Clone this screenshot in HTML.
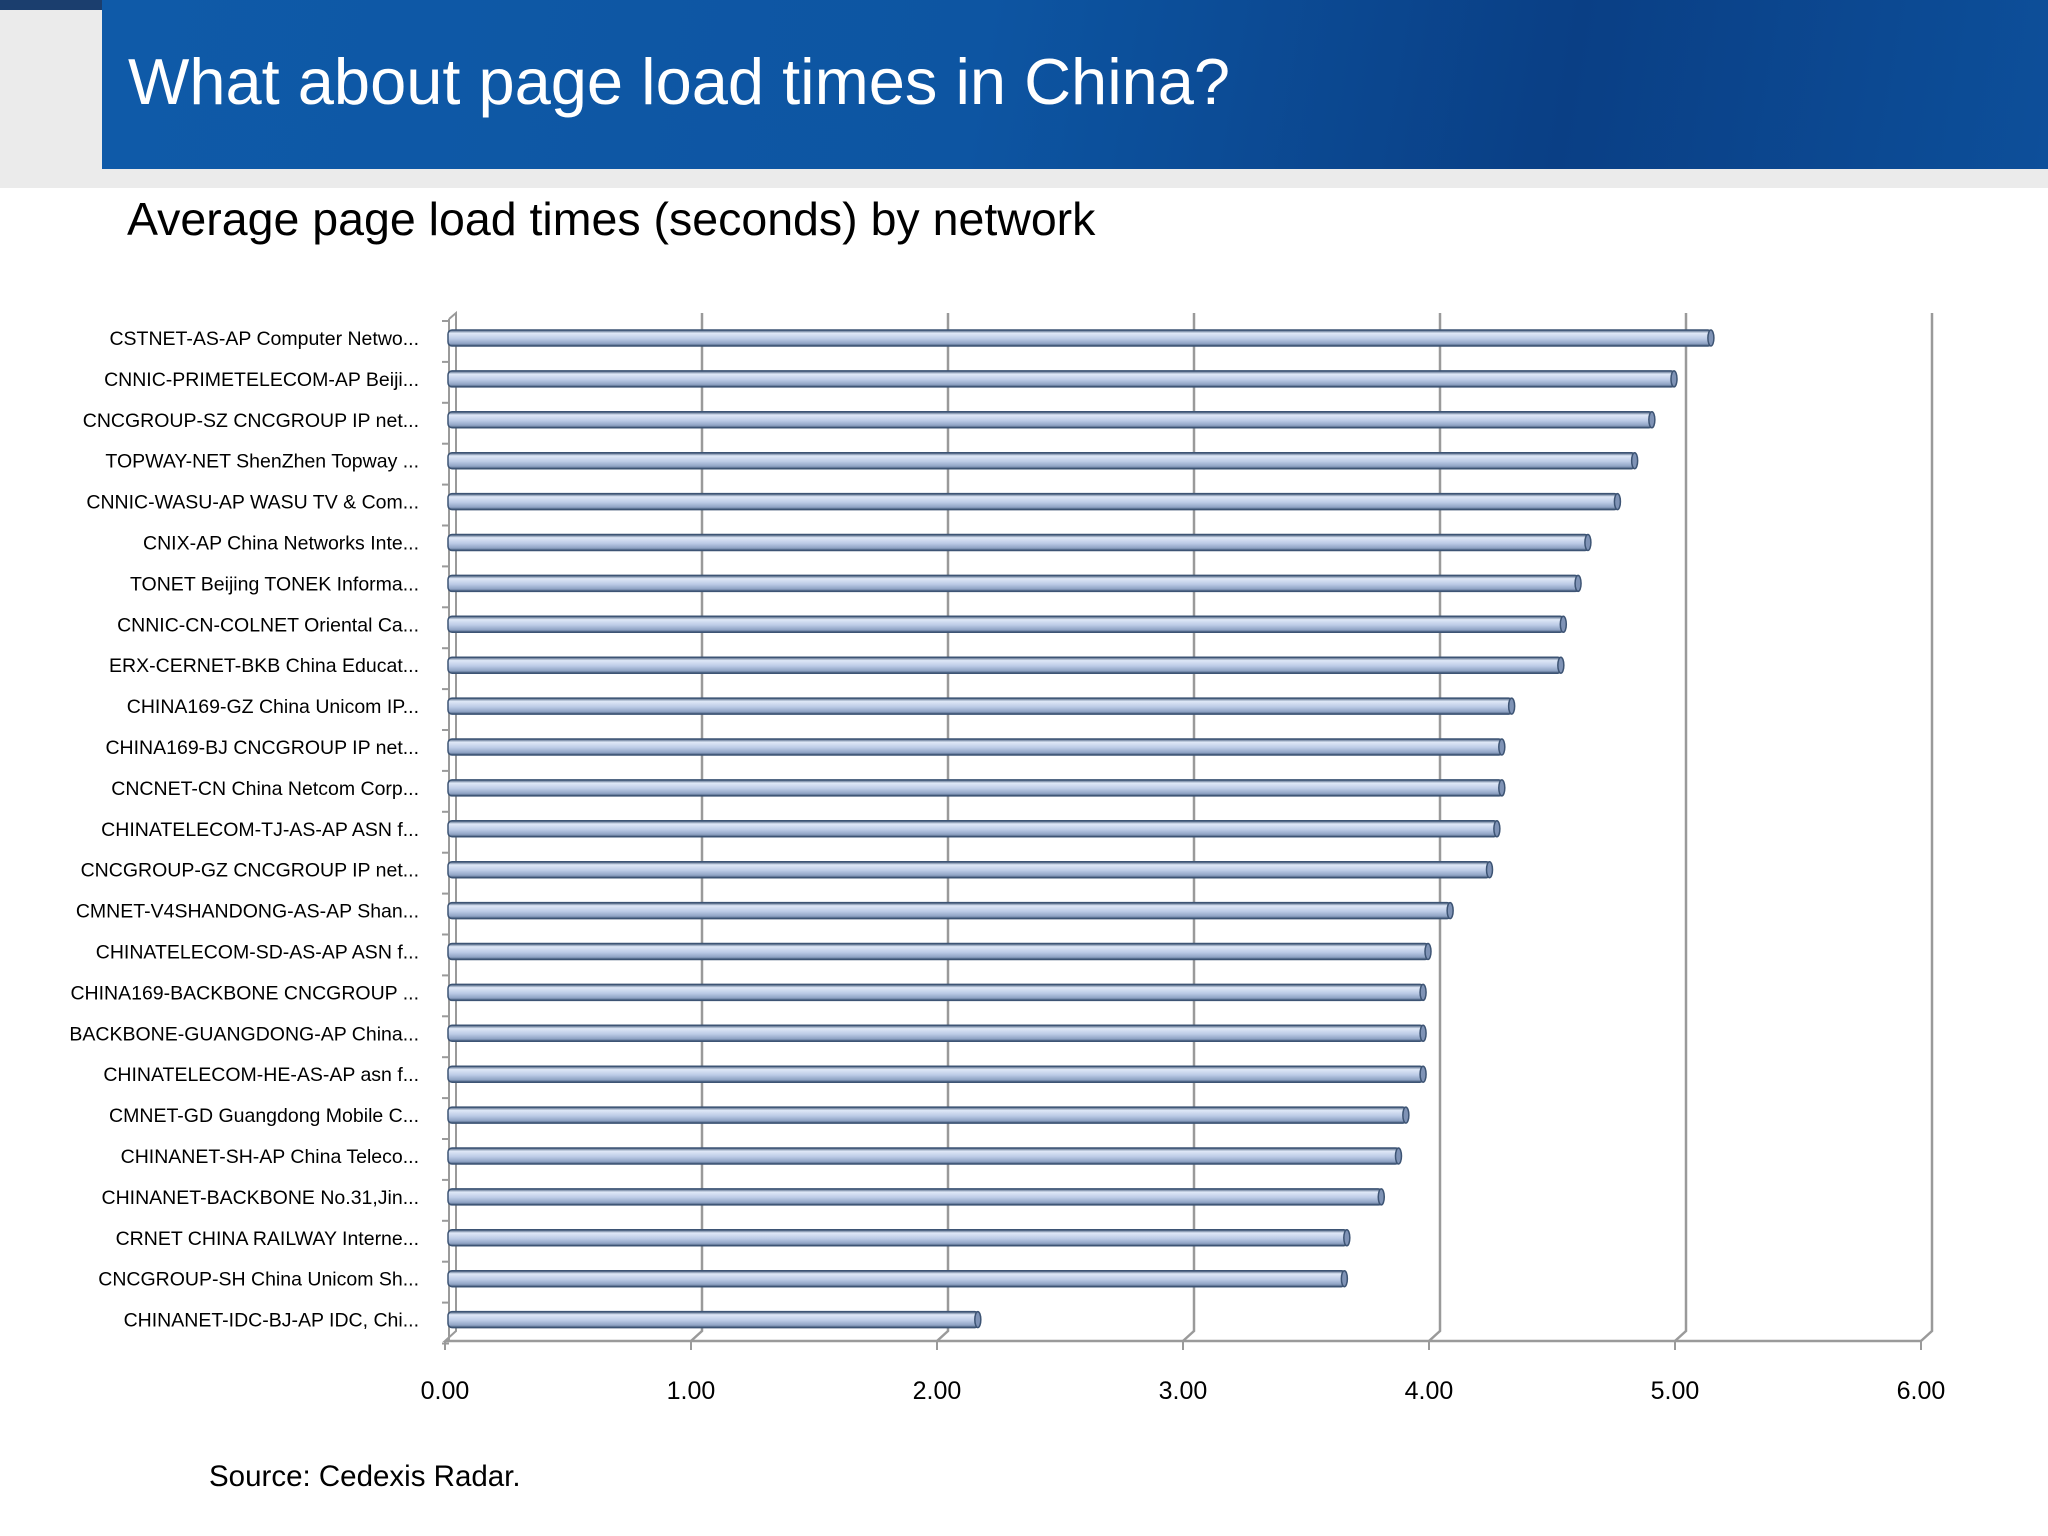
<!DOCTYPE html>
<html><head><meta charset="utf-8"><style>
body{margin:0;width:2048px;height:1536px;background:#fff;overflow:hidden;position:relative;font-family:"Liberation Sans",sans-serif}
#hdr{position:absolute;left:102px;top:0;width:1946px;height:169px;background:linear-gradient(100deg,#0f5aa8 0%,#0d55a2 45%,#0a3f85 75%,#0d4f9a 100%)}
#gl{position:absolute;left:0;top:10px;width:102px;height:178px;background:#ebebeb}
#gs{position:absolute;left:0;top:169px;width:2048px;height:19px;background:#ebebeb}
#nv{position:absolute;left:0;top:0;width:102px;height:10px;background:#1b3e6e}
#title{position:absolute;left:128px;top:44px;color:#fff;font-size:65px;font-family:"Liberation Sans",sans-serif}
#sub{position:absolute;left:127px;top:192px;font-size:46.5px;color:#000;font-family:"Liberation Sans",sans-serif}
#src{position:absolute;left:209px;top:1460px;font-size:29.5px;font-family:"Liberation Sans",sans-serif}
svg{position:absolute;left:0;top:0}
</style></head><body>
<div id="nv"></div>
<div id="gl"></div>
<div id="gs"></div>
<div id="hdr"></div>
<div id="title">What about page load times in China?</div>
<div id="sub">Average page load times (seconds) by network</div>
<div id="src">Source: Cedexis Radar.</div>
<svg id="chart" width="2048" height="1536">
<defs><linearGradient id="bg" x1="0" y1="0" x2="0" y2="1">
<stop offset="0" stop-color="#3d5474"/><stop offset="0.2" stop-color="#dfe8f7"/><stop offset="0.55" stop-color="#bccbe6"/><stop offset="0.85" stop-color="#8fa3c4"/><stop offset="1" stop-color="#3d5474"/></linearGradient></defs>
</svg>
<script>
const categories=["CSTNET-AS-AP Computer Netwo...","CNNIC-PRIMETELECOM-AP Beiji...","CNCGROUP-SZ CNCGROUP IP net...","TOPWAY-NET ShenZhen Topway ...","CNNIC-WASU-AP WASU TV & Com...","CNIX-AP China Networks Inte...","TONET Beijing TONEK Informa...","CNNIC-CN-COLNET Oriental Ca...","ERX-CERNET-BKB China Educat...","CHINA169-GZ China Unicom IP...","CHINA169-BJ CNCGROUP IP net...","CNCNET-CN China Netcom Corp...","CHINATELECOM-TJ-AS-AP ASN f...","CNCGROUP-GZ CNCGROUP IP net...","CMNET-V4SHANDONG-AS-AP Shan...","CHINATELECOM-SD-AS-AP ASN f...","CHINA169-BACKBONE CNCGROUP ...","BACKBONE-GUANGDONG-AP China...","CHINATELECOM-HE-AS-AP asn f...","CMNET-GD Guangdong Mobile C...","CHINANET-SH-AP China Teleco...","CHINANET-BACKBONE No.31,Jin...","CRNET CHINA RAILWAY Interne...","CNCGROUP-SH China Unicom Sh...","CHINANET-IDC-BJ-AP IDC, Chi..."];
const values=[5.15,5.00,4.91,4.84,4.77,4.65,4.61,4.55,4.54,4.34,4.30,4.30,4.28,4.25,4.09,4.00,3.98,3.98,3.98,3.91,3.88,3.81,3.67,3.66,2.17];
const ticks=[0,1,2,3,4,5,6];
const tickLabels=["0.00","1.00","2.00","3.00","4.00","5.00","6.00"];
const svg=document.getElementById('chart');const NS='http://www.w3.org/2000/svg';
const X0=445,UNIT=246,DX=11,DY=-10,YB=1341,YT=313,Y1=338,STEP=40.9;
const x=v=>X0+v*UNIT;const y=i=>Y1+i*STEP;
function mk(t,a){const e=document.createElementNS(NS,t);for(const k in a)e.setAttribute(k,a[k]);svg.appendChild(e);return e;}
let w=mk('path',{d:`M${X0+4} ${YT+6} L${X0+DX} ${YT} L${X0+DX} ${YB+DY} L${X0} ${YB} L${X0+4} ${YB} L${X0+4} ${YT+6}`,fill:'none',stroke:'#9a9a9a','stroke-width':2});


for(let i=0;i<=categories.length;i++){const ty=YT+8+i*STEP;let t=mk('line',{x1:X0-3,y1:ty,x2:X0+4,y2:ty,stroke:'#9a9a9a','stroke-width':2});

}
ticks.forEach((v,i)=>{
 if(v>0){let g=mk('path',{d:`M${x(v)+DX} ${YT} L${x(v)+DX} ${YB+DY} L${x(v)} ${YB}`,fill:'none',stroke:'#9a9a9a','stroke-width':2.5});
 
 }
 let tk=mk('line',{x1:x(v),y1:YB,x2:x(v),y2:YB+9,stroke:'#9a9a9a','stroke-width':2});
 
 
 let tl=mk('text',{x:x(v),y:1399,'text-anchor':'middle','font-size':25,'font-family':'Liberation Sans, sans-serif',fill:'#000'});tl.textContent=tickLabels[i];
 
 
});
let base=mk('line',{x1:X0,y1:YB,x2:x(6),y2:YB,stroke:'#9a9a9a','stroke-width':2.5});


categories.forEach((c,i)=>{
 const cy=y(i);
 let b=mk('rect',{x:X0+3,y:cy-8,width:x(values[i])-X0-3,height:16,rx:4,fill:'url(#bg)',stroke:'#3d5474','stroke-width':1.5});
 
 
 let cap=mk('ellipse',{cx:x(values[i])-1,cy:cy,rx:3,ry:8,fill:'#7f93b6',stroke:'#3d5474','stroke-width':1.5});
 
 
 let l=mk('text',{x:419,y:cy+7,'text-anchor':'end','font-size':19.5,'font-family':'Liberation Sans, sans-serif',fill:'#000'});l.textContent=c;
 
 
});
</script>
</body></html>
